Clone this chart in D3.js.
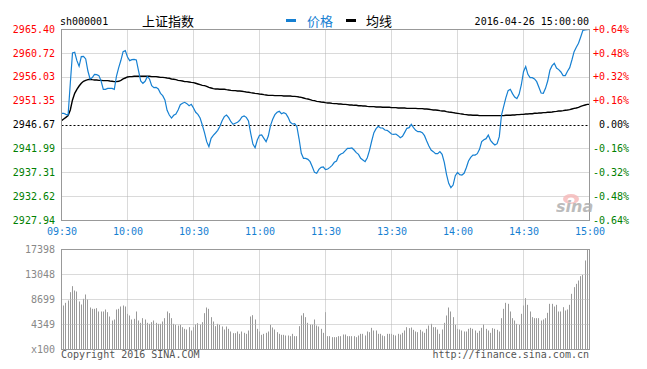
<!DOCTYPE html>
<html><head><meta charset="utf-8">
<script src="https://cdn.jsdelivr.net/npm/d3@7"></script>
<style>
body{margin:0;background:#fff;}
svg{display:block;}
text{font-family:"DejaVu Sans Mono",monospace;font-size:10px;}
</style></head><body>
<svg id="c" width="647" height="369"></svg>
<script>
// ---------- data ----------
const symbol = "sh000001";
const indexName = "上证指数";
const legendNames = ["价格", "均线"];
const stamp = "2016-04-26 15:00:00";
const baseClose = 2946.67;

const priceTicks = [2965.40, 2960.72, 2956.03, 2951.35, 2946.67, 2941.99, 2937.31, 2932.62, 2927.94];
const priceTickLabels = ["2965.40","2960.72","2956.03","2951.35","2946.67","2941.99","2937.31","2932.62","2927.94"];
const pctTickLabels = ["+0.64%","+0.48%","+0.32%","+0.16%","0.00%","-0.16%","-0.32%","-0.48%","-0.64%"];
const timeTicks = [0, 30, 60, 90, 120, 150, 180, 210, 240];
const timeLabels = ["09:30","10:00","10:30","11:00","11:30","13:30","14:00","14:30","15:00"];
const volTicks = [17398, 13048, 8699, 4349, 0];
const volTickLabels = ["17398","13048","8699","4349","x100"];

const price = [
2948.96,2948.96,2948.76,2948.63,2954.85,2960.80,2960.93,2959.29,2958.18,2960.08,
2960.14,2959.62,2957.26,2955.70,2955.96,2956.61,2956.55,2956.35,2955.30,2953.67,
2953.67,2953.86,2953.86,2953.86,2953.67,2956.28,2957.92,2959.36,2961.06,2961.25,
2960.01,2959.29,2959.49,2959.55,2959.42,2957.33,2955.30,2954.85,2955.24,2956.15,
2955.70,2954.39,2953.99,2954.06,2953.73,2952.88,2952.43,2951.58,2949.55,2948.63,
2948.04,2948.57,2948.83,2949.61,2950.66,2950.92,2951.12,2950.86,2950.46,2950.72,
2950.01,2949.16,2948.76,2948.04,2946.67,2945.17,2943.40,2942.42,2944.05,2944.64,
2945.10,2945.62,2946.41,2947.52,2948.31,2948.63,2948.11,2947.32,2946.80,2947.00,
2947.19,2947.59,2948.24,2948.44,2948.17,2947.45,2945.03,2942.94,2942.22,2943.73,
2944.64,2944.71,2944.05,2943.40,2944.51,2946.54,2947.78,2948.70,2949.16,2949.35,
2948.89,2949.09,2948.89,2948.17,2947.19,2946.87,2946.93,2946.34,2943.92,2941.11,
2940.13,2940.13,2939.93,2939.48,2938.49,2937.38,2937.19,2937.97,2938.36,2938.43,
2937.91,2938.04,2938.36,2938.76,2939.35,2939.61,2940.65,2940.98,2941.18,2941.63,
2942.09,2942.09,2942.16,2941.76,2941.24,2940.91,2940.13,2939.80,2939.48,2940.26,
2941.70,2943.53,2945.17,2945.95,2946.41,2946.08,2946.08,2945.69,2945.62,2945.30,
2944.90,2944.84,2944.90,2944.58,2944.18,2944.45,2945.23,2946.02,2946.15,2946.80,
2946.15,2945.62,2945.36,2945.36,2945.17,2944.58,2943.53,2942.55,2941.76,2941.44,
2941.05,2941.05,2941.44,2940.91,2939.35,2936.99,2935.22,2934.37,2934.90,2936.73,
2937.38,2936.93,2936.86,2937.19,2938.30,2939.61,2940.33,2940.78,2940.78,2941.05,
2941.90,2943.40,2943.79,2943.99,2944.71,2943.66,2943.14,2942.75,2943.01,2944.38,
2948.63,2950.33,2952.03,2953.41,2953.67,2952.82,2952.16,2951.84,2952.69,2954.52,
2957.13,2958.12,2956.61,2955.96,2955.96,2955.70,2955.17,2954.06,2952.95,2952.88,
2953.86,2955.30,2957.40,2958.31,2958.77,2957.85,2957.53,2957.07,2956.35,2956.35,
2957.20,2957.92,2959.42,2961.06,2961.91,2962.69,2963.94,2965.24,2965.30,2965.35,
2965.40
];

const avgPrice = [
2947.52,2947.85,2948.17,2948.50,2949.61,2951.58,2952.88,2953.67,2954.32,2954.85,
2955.24,2955.43,2955.56,2955.63,2955.56,2955.50,2955.50,2955.43,2955.43,2955.37,
2955.37,2955.37,2955.30,2955.24,2955.17,2955.17,2955.24,2955.43,2955.70,2955.89,
2956.09,2956.15,2956.15,2956.22,2956.22,2956.22,2956.22,2956.22,2956.22,2956.22,
2956.22,2956.15,2956.15,2956.15,2956.09,2956.02,2956.02,2955.96,2955.89,2955.83,
2955.70,2955.63,2955.56,2955.43,2955.37,2955.30,2955.17,2955.17,2955.11,2955.04,
2954.98,2954.85,2954.71,2954.58,2954.45,2954.39,2954.26,2954.06,2953.93,2953.80,
2953.73,2953.73,2953.67,2953.67,2953.67,2953.60,2953.54,2953.47,2953.41,2953.41,
2953.34,2953.34,2953.28,2953.21,2953.14,2953.08,2953.01,2952.95,2952.88,2952.82,
2952.75,2952.69,2952.62,2952.56,2952.49,2952.49,2952.49,2952.43,2952.43,2952.43,
2952.43,2952.36,2952.36,2952.36,2952.36,2952.29,2952.29,2952.23,2952.16,2952.10,
2951.97,2951.84,2951.77,2951.64,2951.51,2951.44,2951.31,2951.25,2951.18,2951.12,
2951.05,2950.99,2950.99,2950.92,2950.86,2950.86,2950.79,2950.79,2950.72,2950.72,
2950.66,2950.59,2950.59,2950.53,2950.53,2950.46,2950.46,2950.40,2950.40,2950.33,
2950.27,2950.27,2950.27,2950.20,2950.20,2950.20,2950.14,2950.14,2950.14,2950.14,
2950.07,2950.07,2950.07,2950.01,2950.01,2950.01,2950.01,2949.94,2949.94,2949.94,
2949.94,2949.94,2949.88,2949.88,2949.88,2949.81,2949.81,2949.75,2949.68,2949.61,
2949.61,2949.55,2949.48,2949.42,2949.42,2949.29,2949.22,2949.16,2949.09,2949.02,
2948.96,2948.89,2948.83,2948.76,2948.70,2948.63,2948.63,2948.57,2948.57,2948.57,
2948.50,2948.50,2948.50,2948.50,2948.50,2948.50,2948.50,2948.50,2948.50,2948.50,
2948.50,2948.50,2948.57,2948.57,2948.57,2948.63,2948.63,2948.70,2948.70,2948.76,
2948.76,2948.83,2948.83,2948.89,2948.89,2948.96,2948.96,2949.02,2949.02,2949.09,
2949.09,2949.16,2949.16,2949.22,2949.29,2949.35,2949.42,2949.42,2949.48,2949.55,
2949.61,2949.68,2949.81,2949.94,2950.01,2950.14,2950.33,2950.46,2950.59,2950.72,
2950.72
];

const volume = [
11716,7656,8120,8526,9976,11020,10266,10092,8352,7830,
8816,9570,8700,7308,7076,7076,7192,6612,6612,6612,
6960,6496,5742,5046,5220,6960,7076,7482,7656,7482,
6206,5916,5220,5336,6612,5046,4640,5452,5220,4640,
4466,4756,5046,4640,4466,4466,4872,5452,6612,6322,
5452,4466,4292,4176,4292,3886,3596,3480,3886,3306,
3886,4350,4582,4350,4756,6322,7308,7076,5626,4872,
4060,4466,4292,4002,3480,4002,3596,3132,2842,2842,
3132,2726,3132,2900,2726,3306,5742,5974,5220,3596,
3132,2552,2726,2900,3132,4292,3828,3480,3016,2726,
2552,2552,2436,2436,2320,2726,2320,2320,4060,5916,
6322,5626,4640,4350,4350,5220,4176,4002,3596,2900,
6496,2320,2320,2146,2146,2146,2320,2320,2610,2610,
2320,2320,2320,2320,2146,2436,2726,2726,2436,3132,
3016,3770,3306,3306,2726,2726,2436,2320,2726,2726,
2726,2552,2436,2726,2610,2900,3306,3886,3712,3828,
3422,3132,3016,3422,3132,2900,3596,4176,4466,3886,
3886,3480,2726,3480,4640,5916,7308,6612,5626,4292,
3596,3480,3306,3132,3132,3596,3770,3596,3306,2900,
3248,3770,4350,3596,3306,2900,3712,3596,3422,3132,
5452,7076,8120,7946,6612,5452,5046,4466,4292,6206,
7656,8932,7772,6612,5626,5452,5452,5452,5046,5220,
5452,6380,7946,7946,7482,7772,6612,6612,7366,6786,
6960,7772,9686,10846,11426,12006,12760,12992,15486,17398,
16500
];

// ---------- drawing ----------
const BLUE = "#1680d2", RED = "#ff0000", GREEN = "#008000", GRID = "#b4b4b4", FRAME = "#999";
const svg = d3.select("#c");
const P = {l: 61.5, r: 589.5, t: 29.5, b: 220.5};
const V = {t: 249.5, b: 349.5};

const minutes = d3.range(price.length);
const x = d3.scaleLinear().domain([0, 240]).range([P.l, P.r]);
const y = d3.scaleLinear().domain([priceTicks[priceTicks.length-1], priceTicks[0]]).range([P.b, P.t]);
const yv = d3.scaleLinear().domain([0, volTicks[0]]).range([V.b, V.t]);
const crisp = v => Math.floor(v) + 0.5;

svg.append("defs").append("clipPath").attr("id","vclip")
  .append("rect").attr("x", P.l + 0.5).attr("y", V.t).attr("width", P.r - P.l - 1).attr("height", V.b - V.t - 0.5);
svg.select("defs").append("clipPath").attr("id","pclip")
  .append("rect").attr("x", P.l).attr("y", P.t - 1).attr("width", P.r - P.l).attr("height", P.b - P.t + 2);

// price grid
const gP = svg.append("g");
gP.selectAll("line.h").data(priceTicks.filter((d,i)=> i>0 && i<priceTicks.length-1 && i!==4)).join("line")
  .attr("x1", P.l).attr("x2", P.r).attr("y1", d=>crisp(y(d))).attr("y2", d=>crisp(y(d)))
  .attr("stroke", GRID).attr("stroke-dasharray","1,1");
gP.selectAll("line.v").data(timeTicks.slice(1,-1)).join("line")
  .attr("x1", d=>crisp(x(d))).attr("x2", d=>crisp(x(d))).attr("y1", P.t).attr("y2", P.b)
  .attr("stroke", GRID).attr("stroke-dasharray","1,1");
// base dashed line
gP.append("line").attr("x1", P.l).attr("x2", P.r)
  .attr("y1", crisp(y(baseClose))).attr("y2", crisp(y(baseClose)))
  .attr("stroke","#000").attr("stroke-dasharray","2,2");

// lines
const line = d3.line().x((d,i)=>x(minutes[i])).y(d=>y(d));
svg.append("path").datum(avgPrice).attr("d", line).attr("fill","none")
  .attr("stroke","#000").attr("stroke-width",1.4).attr("clip-path","url(#pclip)");
svg.append("path").datum(price).attr("d", line).attr("fill","none")
  .attr("stroke",BLUE).attr("stroke-width",1.2).attr("clip-path","url(#pclip)");

// price frame
svg.append("rect").attr("x",P.l).attr("y",P.t).attr("width",P.r-P.l).attr("height",P.b-P.t)
  .attr("fill","none").attr("stroke",FRAME);

// left price axis
const colorOf = i => i < 4 ? RED : (i === 4 ? "#000" : GREEN);
const axL = svg.append("g").attr("transform",`translate(55,0)`)
  .call(d3.axisLeft(y).tickValues(priceTicks).tickSize(0).tickPadding(0).tickFormat((d,i)=>priceTickLabels[i]));
axL.select(".domain").remove();
axL.selectAll("text").attr("fill",(d,i)=>colorOf(i)).attr("dy","0.27em")
  .style("font-family",'"DejaVu Sans Mono",monospace').style("font-size","10px");
// right pct axis
const axR = svg.append("g").attr("transform",`translate(629,0)`)
  .call(d3.axisLeft(y).tickValues(priceTicks).tickSize(0).tickPadding(0).tickFormat((d,i)=>pctTickLabels[i]));
axR.select(".domain").remove();
axR.selectAll("text").attr("fill",(d,i)=>colorOf(i)).attr("dy","0.27em")
  .style("font-family",'"DejaVu Sans Mono",monospace').style("font-size","10px");
// time axis
const axT = svg.append("g").attr("transform",`translate(0,${P.b})`)
  .call(d3.axisBottom(x).tickValues(timeTicks).tickSize(0).tickPadding(0).tickFormat((d,i)=>timeLabels[i]));
axT.select(".domain").remove();
axT.selectAll("text").attr("fill",BLUE).attr("dy",null).attr("y",14.5)
  .style("font-family",'"DejaVu Sans Mono",monospace').style("font-size","10px");

// volume grid + bars
const gV = svg.append("g");
gV.append("g").attr("clip-path","url(#vclip)").selectAll("rect").data(volume).join("rect")
  .attr("x",(d,i)=>Math.floor(x(minutes[i]))).attr("width",1)
  .attr("y",d=>yv(d)).attr("height",d=>V.b - 0.5 - yv(d)).attr("fill","#999");
gV.selectAll("line.h").data(volTicks.slice(1,-1)).join("line")
  .attr("x1",P.l).attr("x2",P.r).attr("y1",d=>crisp(yv(d))).attr("y2",d=>crisp(yv(d)))
  .attr("stroke",GRID).attr("stroke-dasharray","1,1");
gV.selectAll("line.v").data(timeTicks.slice(1,-1)).join("line")
  .attr("x1",d=>crisp(x(d))).attr("x2",d=>crisp(x(d))).attr("y1",V.t).attr("y2",V.b)
  .attr("stroke",GRID).attr("stroke-dasharray","1,1");
svg.append("rect").attr("x",P.l).attr("y",V.t).attr("width",P.r-P.l).attr("height",V.b-V.t)
  .attr("fill","none").attr("stroke",FRAME);
const axV = svg.append("g").attr("transform",`translate(55,0)`)
  .call(d3.axisLeft(yv).tickValues(volTicks).tickSize(0).tickPadding(0).tickFormat((d,i)=>volTickLabels[i]));
axV.select(".domain").remove();
axV.selectAll("text").attr("fill","#888").attr("dy","0.27em")
  .style("font-family",'"DejaVu Sans Mono",monospace').style("font-size","10px");

// header
svg.append("text").attr("x",60).attr("y",25).text(symbol);
svg.append("text").attr("x",142).attr("y",26).text(indexName)
  .style("font-family",'"Noto Sans CJK SC",sans-serif').style("font-size","13px");
svg.append("rect").attr("x",286).attr("y",19).attr("width",10).attr("height",3).attr("fill",BLUE);
svg.append("text").attr("x",307).attr("y",26).attr("fill",BLUE).text(legendNames[0])
  .style("font-family",'"Noto Sans CJK SC",sans-serif').style("font-size","13px");
svg.append("rect").attr("x",346).attr("y",19).attr("width",10).attr("height",3).attr("fill","#000");
svg.append("text").attr("x",366).attr("y",26).text(legendNames[1])
  .style("font-family",'"Noto Sans CJK SC",sans-serif').style("font-size","13px");
svg.append("text").attr("x",589).attr("y",25).attr("text-anchor","end").text(stamp);

// footer
svg.append("text").attr("x",61).attr("y",358).attr("fill","#555").text("Copyright 2016 SINA.COM");
svg.append("text").attr("x",589).attr("y",358).attr("fill","#555").attr("text-anchor","end").text("http://finance.sina.com.cn");

// watermark
const wm = svg.append("g").attr("opacity",0.85);
wm.append("ellipse").attr("cx",571).attr("cy",199).attr("rx",8).attr("ry",5).attr("fill","#f6bcbc");
wm.append("ellipse").attr("cx",571).attr("cy",200).attr("rx",3.5).attr("ry",2.5).attr("fill","#fff");
wm.append("text").attr("x",556).attr("y",212).attr("fill","#b0b0b0")
  .style("font-family",'"DejaVu Sans",sans-serif').style("font-size","16px")
  .style("font-style","italic").style("font-weight","bold").text("sina");
</script>
</body></html>
